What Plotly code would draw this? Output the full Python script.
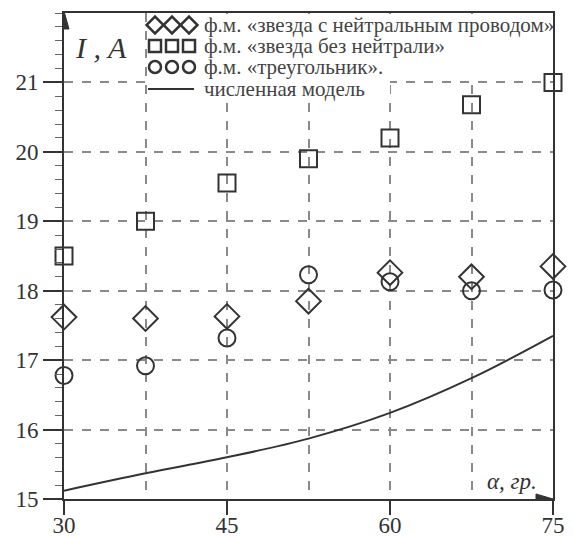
import plotly.graph_objects as go

# ---- data ----
alpha = [30, 37.5, 45, 52.5, 60, 67.5, 75]
i_star_neutral = [17.62, 17.60, 17.63, 17.85, 18.26, 18.20, 18.35]
i_star_no_neutral = [18.50, 19.00, 19.55, 19.90, 20.20, 20.68, 21.00]
i_delta = [16.78, 16.92, 17.32, 18.23, 18.13, 18.00, 18.01]
alpha_model = [30, 37.5, 45, 52.5, 60, 67.5, 75]
i_model = [15.12, 15.37, 15.60, 15.87, 16.24, 16.74, 17.35]

x_ticks = [30, 45, 60, 75]
y_ticks = [15, 16, 17, 18, 19, 20, 21]

labels = [
    "ф.м. «звезда с нейтральным проводом»",
    "ф.м. «звезда без нейтрали»",
    "ф.м. «треугольник».",
    "численная модель",
]

INK = "#333333"
GRID = "#8a8a8a"
FONT = "Liberation Serif"

W, H = 573, 537
L, R, T, B = 64, 553, 13, 499  # plot area in pixels
X0, X1, Y0, Y1 = 30, 75, 15, 22


def px_x(px):
    return X0 + (px - L) * (X1 - X0) / (R - L)


def px_y(py):
    return Y0 + (B - py) * (Y1 - Y0) / (B - T)


fig = go.Figure()

fig.add_trace(go.Scatter(x=alpha_model, y=i_model, mode="lines",
                         line=dict(color=INK, width=2, shape="spline"),
                         cliponaxis=False, showlegend=False))
fig.add_trace(go.Scatter(x=alpha, y=i_star_neutral, mode="markers",
                         marker=dict(symbol="diamond-open", size=19, color=INK,
                                     line=dict(width=2, color=INK)),
                         cliponaxis=False, showlegend=False))
fig.add_trace(go.Scatter(x=alpha, y=i_star_no_neutral, mode="markers",
                         marker=dict(symbol="square-open", size=17, color=INK,
                                     line=dict(width=2, color=INK)),
                         cliponaxis=False, showlegend=False))
fig.add_trace(go.Scatter(x=alpha, y=i_delta, mode="markers",
                         marker=dict(symbol="circle-open", size=17, color=INK,
                                     line=dict(width=2, color=INK)),
                         cliponaxis=False, showlegend=False))

# ---- custom legend on a pixel overlay axis ----
leg_x = [155, 172, 189]
rows_y = [25, 46, 67, 89]
symbols = ["diamond-open", "square-open", "circle-open"]
sizes = [13, 12, 12]
for sym, sz, ry in zip(symbols, sizes, rows_y[:3]):
    fig.add_trace(go.Scatter(x=leg_x, y=[ry] * 3, xaxis="x2", yaxis="y2",
                             mode="markers", showlegend=False, hoverinfo="skip",
                             marker=dict(symbol=sym, size=sz, color=INK,
                                         line=dict(width=2.5, color=INK))))
fig.add_trace(go.Scatter(x=[148, 194], y=[rows_y[3]] * 2, xaxis="x2", yaxis="y2",
                         mode="lines", showlegend=False, hoverinfo="skip",
                         line=dict(color=INK, width=2)))

annotations = []
for lab, ry in zip(labels, rows_y):
    annotations.append(dict(x=202, y=ry, xref="x2", yref="y2", text=lab,
                            showarrow=False, xanchor="left", yanchor="middle",
                            font=dict(family=FONT, size=21, color="#444444")))

annotations.append(dict(x=101, y=47, xref="x2", yref="y2", text="<i>I , A</i>",
                        showarrow=False, xanchor="center", yanchor="middle",
                        font=dict(family=FONT, size=30, color=INK)))
annotations.append(dict(x=512, y=481, xref="x2", yref="y2", text="<i>α, гр.</i>",
                        showarrow=False, xanchor="center", yanchor="middle",
                        font=dict(family=FONT, size=23, color=INK)))

shapes = [
    # white background of legend (above grid, below traces)
    dict(type="rect", xref="x", yref="y", x0=px_x(147), x1=px_x(390),
         y0=px_y(99), y1=px_y(14),
         fillcolor="white", line=dict(width=0), layer="between"),
    dict(type="rect", xref="x", yref="y", x0=px_x(390), x1=px_x(552),
         y0=px_y(79), y1=px_y(14),
         fillcolor="white", line=dict(width=0), layer="between"),
    # axis arrows
    dict(type="path", xref="x2", yref="y2", path="M 64 11 L 59 29 L 69 29 Z",
         fillcolor=INK, line=dict(color=INK, width=1), layer="above"),
    dict(type="path", xref="x2", yref="y2", path="M 553 499 L 536 494 L 536 504 Z",
         fillcolor=INK, line=dict(color=INK, width=1), layer="above"),
]

fig.update_layout(
    width=W, height=H, autosize=False,
    margin=dict(l=L, r=W - R, t=T, b=H - B, pad=0, autoexpand=False),
    paper_bgcolor="white", plot_bgcolor="white",
    showlegend=False,
    annotations=annotations,
    shapes=shapes,
    xaxis=dict(range=[X0, X1], tickvals=x_ticks, ticktext=[str(v) for v in x_ticks],
               ticks="outside", ticklen=14, tickwidth=2, tickcolor=INK,
               ticklabelstandoff=-10,
               showline=True, linecolor=INK, linewidth=2, mirror=True,
               showgrid=True, gridcolor=GRID, gridwidth=1.5, griddash="dash",
               minor=dict(dtick=7.5, tick0=30, showgrid=True, gridcolor=GRID,
                          gridwidth=1.5, griddash="dash", ticks=""),
               tickfont=dict(family=FONT, size=23, color=INK),
               zeroline=False, fixedrange=True, automargin=False),
    yaxis=dict(range=[Y0, Y1], tickvals=y_ticks, ticktext=[str(v) for v in y_ticks],
               ticks="outside", ticklen=19, tickwidth=2, tickcolor=INK,
               showline=True, linecolor=INK, linewidth=2, mirror=True,
               showgrid=True, gridcolor=GRID, gridwidth=1.5, griddash="dash",
               minor=dict(dtick=0.2, tick0=15, ticks="outside", ticklen=7,
                          tickwidth=1.2, tickcolor="#666666", showgrid=False),
               tickfont=dict(family=FONT, size=23, color=INK),
               zeroline=False, fixedrange=True, automargin=False),
    xaxis2=dict(range=[L, R], overlaying="x", visible=False, fixedrange=True,
                automargin=False),
    yaxis2=dict(range=[B, T], overlaying="y", visible=False, fixedrange=True,
                automargin=False),
)

fig.write_html(
    "out.html",
    config={"responsive": False, "displayModeBar": False},
    post_script="document.body.style.margin='0';document.body.style.overflow='hidden';",
)
